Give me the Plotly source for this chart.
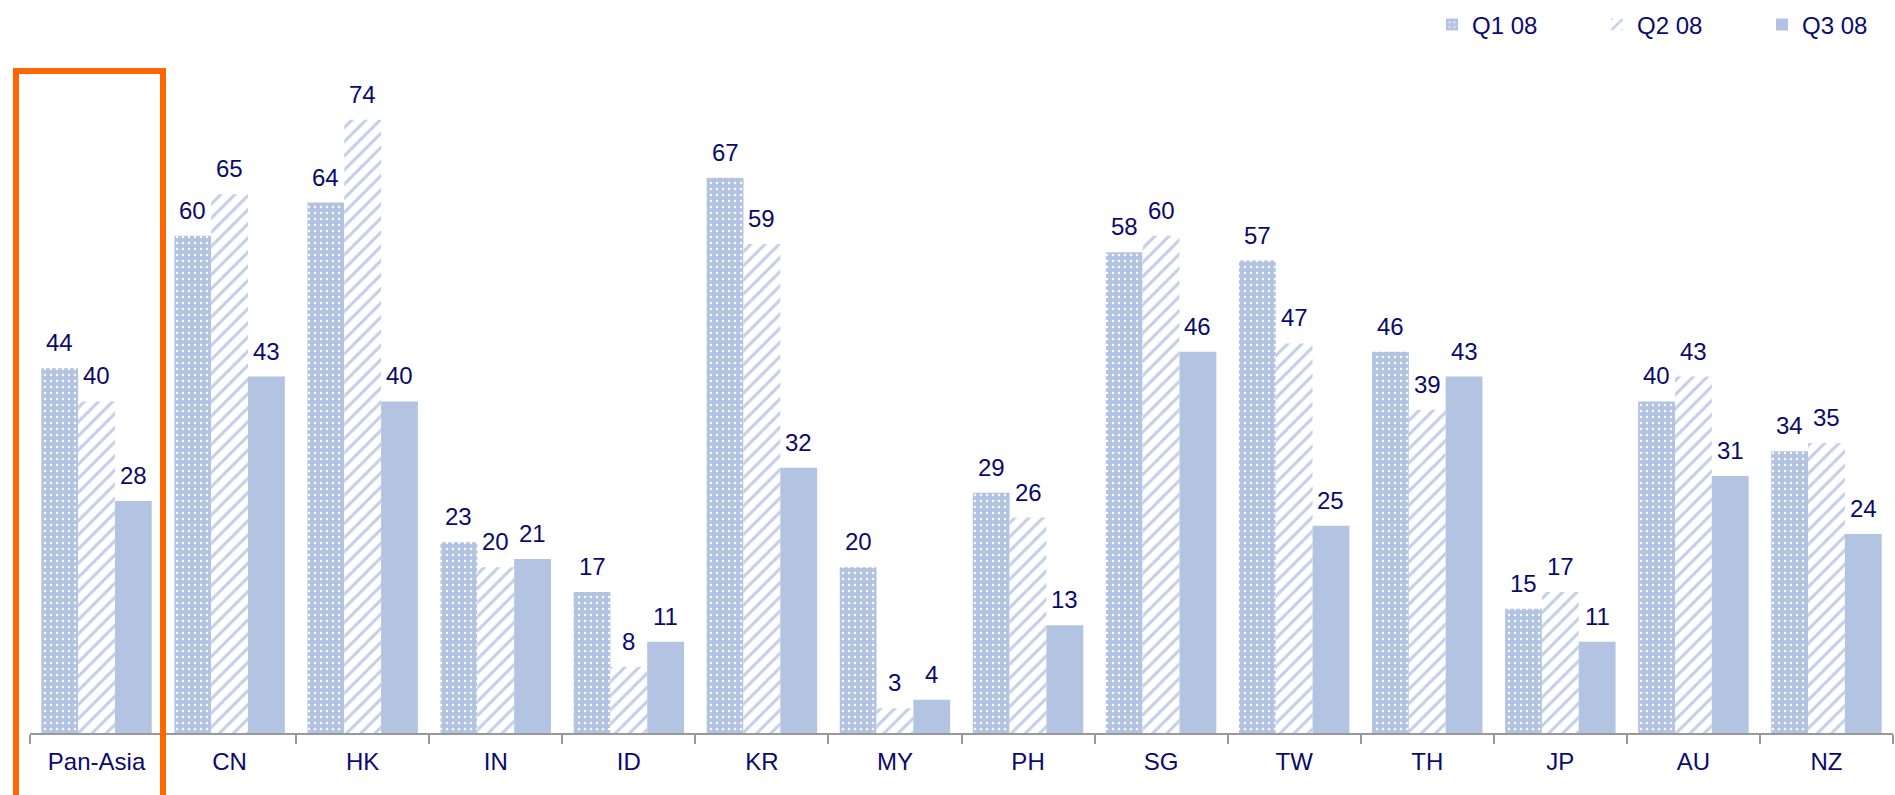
import plotly.graph_objects as go

categories = ["Pan-Asia", "CN", "HK", "IN", "ID", "KR", "MY", "PH", "SG", "TW", "TH", "JP", "AU", "NZ"]
q1_08 = [44, 60, 64, 23, 17, 67, 20, 29, 58, 57, 46, 15, 40, 34]
q2_08 = [40, 65, 74, 20, 8, 59, 3, 26, 60, 47, 39, 17, 43, 35]
q3_08 = [28, 43, 40, 21, 11, 32, 4, 13, 46, 25, 43, 11, 31, 24]
series_names = ["Q1 08", "Q2 08", "Q3 08"]

BLUE = "#B3C3E2"
STRIPE = "#C2CFE8"
NAVY = "#0A0A6E"
FONT = "Arial, Liberation Sans, sans-serif"

W, H = 1895, 795
ML, MR, MT, MB = 30, 2, 60, 62
plot_w = W - ML - MR
plot_h = H - MT - MB
YMAX = 81.2

fig = go.Figure()
fig.add_trace(go.Bar(
    x=categories, y=q1_08, name=series_names[0],
    marker=dict(color=BLUE, line=dict(width=0),
                pattern=dict(shape=".", bgcolor=BLUE, fgcolor="white",
                             size=6, solidity=0.12, fillmode="replace")),
))
fig.add_trace(go.Bar(
    x=categories, y=q2_08, name=series_names[1],
    marker=dict(color="white", line=dict(width=0),
                pattern=dict(shape="/", bgcolor="white", fgcolor=STRIPE,
                             size=10, solidity=0.3, fillmode="replace")),
))
fig.add_trace(go.Bar(
    x=categories, y=q3_08, name=series_names[2],
    marker=dict(color=BLUE, line=dict(width=0)),
))

# value labels above bars
bar_px = plot_w / len(categories) * 0.83 / 3
annotations = []
for k, vals in enumerate([q1_08, q2_08, q3_08]):
    for c, v in zip(categories, vals):
        annotations.append(dict(
            x=c, y=v, xref="x", yref="y", text=str(v), showarrow=False,
            xanchor="center", yanchor="bottom", xshift=(k - 1) * bar_px, yshift=10,
            font=dict(family=FONT, size=24, color=NAVY),
        ))

def px_x(p):
    return (p - ML) / plot_w

def px_y(p):
    return (H - MB - p) / plot_h

fig.update_layout(
    width=W, height=H,
    margin=dict(l=ML, r=MR, t=MT, b=MB, autoexpand=False),
    paper_bgcolor="white", plot_bgcolor="white",
    barmode="group", bargap=0.17, bargroupgap=0,
    font=dict(family=FONT, size=24, color=NAVY),
    showlegend=True,
    legend=dict(orientation="h", x=px_x(1432), xanchor="left", y=px_y(25), yanchor="middle",
                font=dict(family=FONT, size=24, color=NAVY),
                entrywidth=120, entrywidthmode="pixels", traceorder="normal",
                itemwidth=30),
    xaxis=dict(showgrid=False, showline=True, linecolor="#999999", linewidth=1.5,
               ticks="outside", tickson="boundaries", ticklen=9, tickcolor="#999999",
               tickwidth=1.5, ticklabelstandoff=6,
               tickfont=dict(family=FONT, size=24, color=NAVY)),
    yaxis=dict(range=[0, YMAX], visible=False, showgrid=False, zeroline=False),
    annotations=annotations,
    shapes=[dict(type="rect", xref="paper", yref="paper",
                 x0=px_x(16), x1=px_x(163), y0=px_y(820), y1=px_y(71),
                 line=dict(color="#FF6600", width=6), fillcolor="rgba(0,0,0,0)",
                 layer="above")],
)

fig.write_html("out.html")
